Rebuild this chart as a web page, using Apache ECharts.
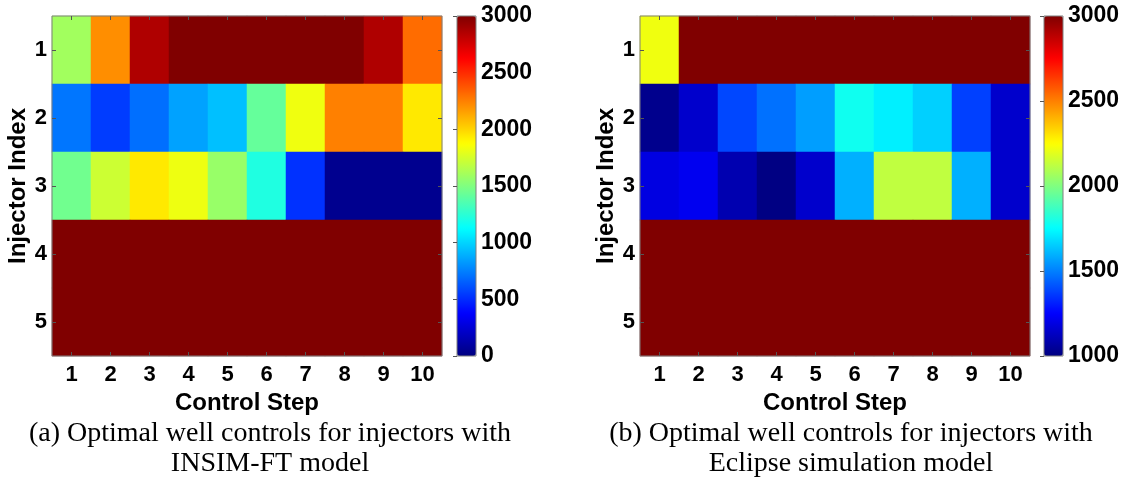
<!DOCTYPE html>
<html>
<head>
<meta charset="utf-8">
<script src="https://cdn.jsdelivr.net/npm/echarts@6/dist/echarts.min.js"></script>
<style>
html,body{margin:0;padding:0;background:#fff;}
#chart{width:1128px;height:482px;}
</style>
</head>
<body>
<div id="chart"></div>
<script>
// ---- data ----
var controlSteps = ['1','2','3','4','5','6','7','8','9','10'];
var injectors = ['1','2','3','4','5'];

// (a) INSIM-FT model: control values per injector (rows) across control steps
var insimInj1 = [1600, 2210, 2860, 3000, 3000, 3000, 3000, 3000, 2860, 2310];
var insimInj2 = [720, 550, 700, 850, 940, 1420, 1830, 2250, 2250, 1940];
var insimInj3 = [1455, 1725, 1940, 1825, 1570, 1215, 520, 45, 45, 45];
var insimInj4 = [3000, 3000, 3000, 3000, 3000, 3000, 3000, 3000, 3000, 3000];
var insimInj5 = [3000, 3000, 3000, 3000, 3000, 3000, 3000, 3000, 3000, 3000];

// (b) Eclipse simulation model
var eclipseInj1 = [2220, 3000, 3000, 3000, 3000, 3000, 3000, 3000, 3000, 3000];
var eclipseInj2 = [1025, 1150, 1388, 1470, 1560, 1780, 1720, 1658, 1375, 1150];
var eclipseInj3 = [1190, 1220, 1095, 1005, 1150, 1595, 2125, 2125, 1595, 1150];
var eclipseInj4 = [3000, 3000, 3000, 3000, 3000, 3000, 3000, 3000, 3000, 3000];
var eclipseInj5 = [3000, 3000, 3000, 3000, 3000, 3000, 3000, 3000, 3000, 3000];

// colour-bar ranges and ticks
var insimRange = [0, 3000];
var eclipseRange = [1000, 3000];
var colorbarInterval = 500;

var captionA = ['(a) Optimal well controls for injectors with', 'INSIM-FT model'];
var captionB = ['(b) Optimal well controls for injectors with', 'Eclipse simulation model'];

// ---- build ----
function toCells(rows) {
  var out = [];
  rows.forEach(function (row, r) {
    row.forEach(function (v, c) { out.push([c, r, v]); });
  });
  return out;
}
var insimData = toCells([insimInj1, insimInj2, insimInj3, insimInj4, insimInj5]);
var eclipseData = toCells([eclipseInj1, eclipseInj2, eclipseInj3, eclipseInj4, eclipseInj5]);

var jet = ['#000080','#0000ff','#0080ff','#00ffff','#80ff80','#ffff00','#ff8000','#ff0000','#800000'];

var FONT = '"Liberation Sans", Arial, Helvetica, sans-serif';
var SERIF = '"Liberation Serif", "Times New Roman", serif';
var TICK = 22, LAB = 24, CBT = 23;

var plotTop = 16, plotH = 340, plotW = 390;
var panels = [
  {left: 52, cb: 457, data: insimData, range: insimRange, cap: captionA, capX: 270},
  {left: 640, cb: 1044, data: eclipseData, range: eclipseRange, cap: captionB, capX: 851}
];

var grid = [], xAxis = [], yAxis = [], series = [], visualMap = [], graphic = [];
panels.forEach(function (p, i) {
  grid.push({left: p.left, top: plotTop, width: plotW, height: plotH, show: true,
    borderColor: '#7f7f7f', borderWidth: 1, backgroundColor: 'transparent', z: 5});
  var gi = grid.length - 1;
  xAxis.push({type: 'category', data: controlSteps, gridIndex: gi, position: 'bottom', z: 6,
    name: 'Control Step', nameLocation: 'middle', nameGap: 27,
    nameTextStyle: {fontFamily: FONT, fontWeight: 'bold', fontSize: LAB, color: '#000'},
    axisLine: {show: false}, splitLine: {show: false},
    axisTick: {show: true, inside: true, alignWithLabel: true, length: 4, lineStyle: {color: '#555'}},
    axisLabel: {fontFamily: FONT, fontWeight: 'bold', fontSize: TICK, color: '#000', margin: 8}});
  xAxis.push({type: 'category', data: controlSteps, gridIndex: gi, position: 'top', z: 6,
    axisLine: {show: false}, splitLine: {show: false}, axisLabel: {show: false},
    axisTick: {show: true, inside: true, alignWithLabel: true, length: 4, lineStyle: {color: '#555'}}});
  yAxis.push({type: 'category', data: injectors, inverse: true, gridIndex: gi, position: 'left', z: 6,
    name: 'Injector Index', nameLocation: 'middle', nameGap: 22,
    nameTextStyle: {fontFamily: FONT, fontWeight: 'bold', fontSize: LAB, color: '#000'},
    axisLine: {show: false}, splitLine: {show: false},
    axisTick: {show: true, inside: true, alignWithLabel: true, length: 4, lineStyle: {color: '#555'}},
    axisLabel: {fontFamily: FONT, fontWeight: 'bold', fontSize: TICK, color: '#000', margin: 5}});
  yAxis.push({type: 'category', data: injectors, inverse: true, gridIndex: gi, position: 'right', z: 6,
    axisLine: {show: false}, splitLine: {show: false}, axisLabel: {show: false},
    axisTick: {show: true, inside: true, alignWithLabel: true, length: 4, lineStyle: {color: '#555'}}});
  series.push({type: 'heatmap', xAxisIndex: xAxis.length - 2, yAxisIndex: yAxis.length - 2,
    data: p.data, itemStyle: {borderWidth: 0}, emphasis: {disabled: true}, progressive: 0});
  var si = series.length - 1;
  visualMap.push({type: 'continuous', seriesIndex: si, dimension: 2, min: p.range[0], max: p.range[1],
    show: true, calculable: false, left: p.cb, top: plotTop, itemWidth: 19, itemHeight: plotH,
    padding: 0, text: null, showLabel: false, hoverLink: false, inRange: {color: jet}, z: 4});

  grid.push({left: p.cb, top: plotTop, width: 19, height: plotH, show: true,
    borderColor: '#7f7f7f', borderWidth: 1, backgroundColor: 'transparent', z: 10});
  var cg = grid.length - 1;
  xAxis.push({type: 'value', gridIndex: cg, show: false, min: 0, max: 1});
  yAxis.push({type: 'value', gridIndex: cg, position: 'right', min: p.range[0], max: p.range[1],
    interval: colorbarInterval, z: 11,
    axisLine: {show: false}, splitLine: {show: false},
    axisTick: {show: true, inside: true, length: 4, lineStyle: {color: '#555'}},
    axisLabel: {fontFamily: FONT, fontWeight: 'bold', fontSize: CBT, color: '#000', margin: 5,
      formatter: function (v) { return String(v); }}});

  graphic.push({type: 'text', z: 20,
    style: {text: p.cap[0], x: p.capX, y: 434, textAlign: 'center', textVerticalAlign: 'middle',
      font: '28px ' + SERIF, fill: '#000'}});
  graphic.push({type: 'text', z: 20,
    style: {text: p.cap[1], x: p.capX, y: 464, textAlign: 'center', textVerticalAlign: 'middle',
      font: '28px ' + SERIF, fill: '#000'}});
});

var chart = echarts.init(document.getElementById('chart'), null, {renderer: 'canvas'});
chart.setOption({
  animation: false,
  backgroundColor: '#fff',
  grid: grid, xAxis: xAxis, yAxis: yAxis,
  visualMap: visualMap, series: series, graphic: graphic
});
</script>
</body>
</html>
